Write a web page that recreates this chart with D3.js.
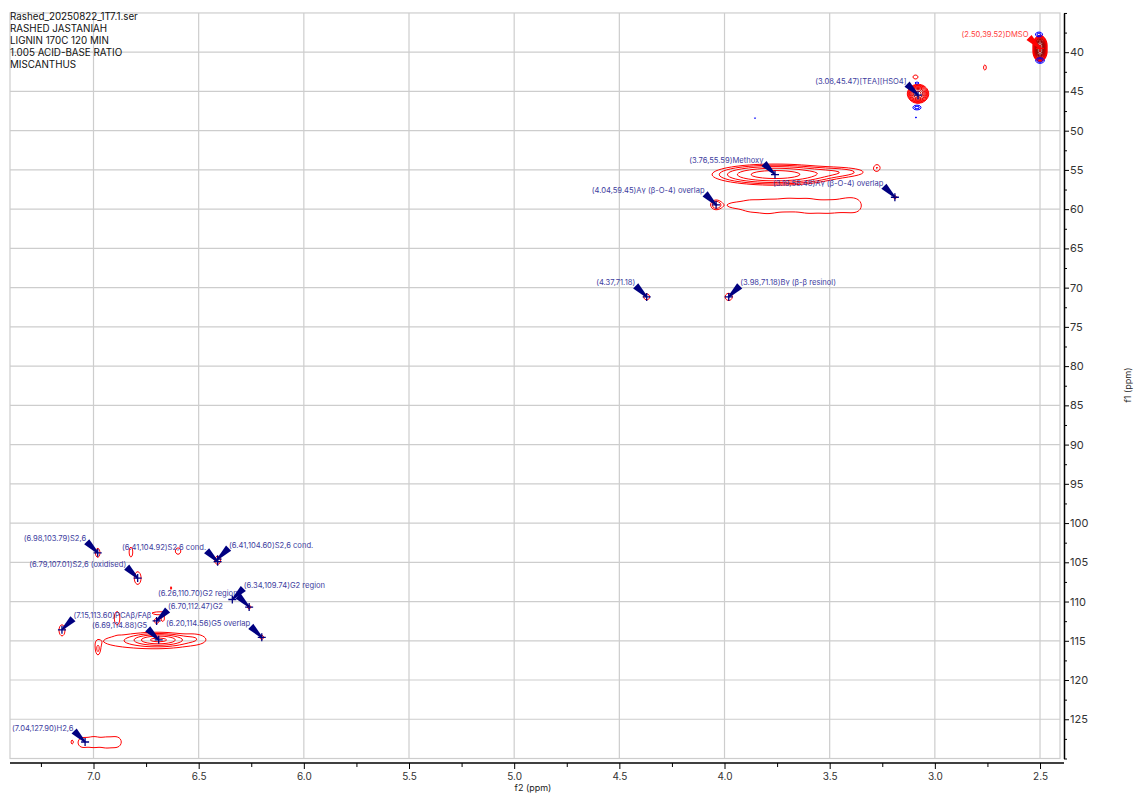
<!DOCTYPE html>
<html>
<head>
<meta charset="utf-8">
<script src="https://cdn.jsdelivr.net/npm/d3@7"></script>
<style>
  body { margin: 0; background: #fff; }
  svg { display: block; }
  text { font-family: Inter, "Liberation Sans", sans-serif; }
</style>
</head>
<body>
<svg id="chart" width="1135" height="796"></svg>
<script>
// ---- spectrum data -------------------------------------------------------
const headerLines = [
  "Rashed_20250822_1T7.1.ser",
  "RASHED JASTANIAH",
  "LIGNIN 170C 120 MIN",
  "1.005 ACID-BASE RATIO",
  "MISCANTHUS"
];

const f2Range = [7.397, 2.405];          // 1H axis (ppm), reversed
const f1Range = [35, 130];               // 13C axis (ppm), downward
const f2Ticks = [7.0, 6.5, 6.0, 5.5, 5.0, 4.5, 4.0, 3.5, 3.0, 2.5];
const f2Minor = [7.25, 6.75, 6.25, 5.75, 5.25, 4.75, 4.25, 3.75, 3.25, 2.75];
const f1Ticks = [40, 45, 50, 55, 60, 65, 70, 75, 80, 85, 90, 95, 100, 105, 110, 115, 120, 125];
const f1Minor = [35, 37.5, 42.5, 47.5, 52.5, 57.5, 62.5, 67.5, 72.5, 77.5, 82.5, 87.5,
                 92.5, 97.5, 102.5, 107.5, 112.5, 117.5, 122.5, 127.5, 130];

// cross peaks: [f2 ppm, f1 ppm, line width f2, line width f1, intensity]
const positivePeaks = [
  [2.500, 39.15, 0.0090, 0.357, 700],    // DMSO
  [2.500, 39.91, 0.0090, 0.357, 700],
  [2.762, 41.95, 0.0071, 0.382, 1.5],
  [3.080, 45.30, 0.0176, 0.420, 60],     // [TEA][HSO4]
  [3.092, 43.16, 0.0133, 0.280, 1.5],
  [3.760, 55.59, 0.1427, 0.637, 9],      // methoxy
  [3.451, 55.27, 0.0951, 0.446, 1.75],
  [3.275, 54.69, 0.0143, 0.382, 1.5],
  [4.040, 59.45, 0.0190, 0.446, 2.5],    // A-gamma
  [3.964, 59.50, 0.0380, 0.380, 1.0],
  [3.888, 59.58, 0.0476, 0.950, 1.15],
  [3.793, 59.70, 0.0476, 1.150, 1.10],
  [3.698, 59.45, 0.0476, 0.950, 1.18],
  [3.603, 59.58, 0.0476, 1.200, 1.10],
  [3.508, 59.70, 0.0476, 0.950, 1.16],
  [3.413, 59.45, 0.0476, 1.150, 1.14],
  [3.365, 59.58, 0.0300, 0.900, 0.6],
  [3.190, 58.48, 0.0095, 0.255, 1.4],
  [4.370, 71.18, 0.0157, 0.420, 1.5],
  [3.980, 71.18, 0.0190, 0.510, 1.5],
  [6.980, 103.79, 0.0119, 0.637, 1.5],   // S2,6
  [6.822, 103.70, 0.0095, 0.700, 1.5],
  [6.598, 103.57, 0.0143, 0.446, 1.5],
  [6.410, 104.75, 0.0157, 0.573, 1.5],
  [6.790, 107.01, 0.0166, 0.830, 1.6],
  [6.631, 108.28, 0.0048, 0.255, 1.3],
  [6.260, 110.70, 0.0095, 0.255, 1.5],   // G2
  [6.200, 114.56, 0.0095, 0.255, 1.5],
  [6.700, 112.47, 0.0119, 0.320, 1.5],
  [6.670, 112.23, 0.0071, 0.320, 1.4],
  [7.150, 113.60, 0.0143, 0.700, 1.5],   // PCA / FA
  [6.979, 116.18, 0.0095, 0.637, 1.4],
  [6.690, 114.88, 0.0618, 0.382, 6],     // G5
  [6.731, 115.04, 0.2140, 0.890, 1.7],
  [6.517, 114.65, 0.0380, 0.510, 0.6],
  [6.888, 112.10, 0.0143, 0.890, 1.5],
  [6.684, 111.48, 0.0713, 0.320, 1.15],
  [7.055, 127.97, 0.0262, 0.760, 1.25],  // H2,6
  [6.998, 127.90, 0.0262, 0.760, 1.30],
  [6.941, 127.97, 0.0262, 0.760, 1.25],
  [6.888, 127.90, 0.0262, 0.760, 1.30],
  [7.102, 127.90, 0.0048, 0.255, 1.3]
];

const negativePeaks = [
  [2.505, 37.74, 0.0143, 0.255, 2.0],
  [2.500, 41.06, 0.0166, 0.280, 2.2],
  [3.085, 43.93, 0.0119, 0.153, 1.4],
  [3.085, 47.05, 0.0166, 0.255, 2.0],
  [3.090, 48.32, 0.0048, 0.127, 1.3],
  [3.855, 48.39, 0.0048, 0.127, 1.3]
];

const annotationShifts = [
  [2.50, 39.52], [3.08, 45.47], [3.76, 55.59], [4.04, 59.45], [3.19, 58.48],
  [4.37, 71.18], [3.98, 71.18], [6.98, 103.79], [6.41, 104.92], [6.41, 104.60],
  [6.79, 107.01], [6.26, 110.70], [6.34, 109.74], [6.70, 112.47], [7.15, 113.60],
  [6.69, 114.88], [6.20, 114.56], [7.04, 127.90]
];
const annotationNames = [
  "DMSO", "[TEA][HSO4]", "Methoxy", "A\u03b3 (\u03b2-O-4) overlap", "A\u03b3 (\u03b2-O-4) overlap",
  "", "B\u03b3 (\u03b2-\u03b2 resinol)", "S2,6", "S2,6 cond.", "S2,6 cond.",
  "S2,6 (oxidised)", "G2 region", "G2 region", "G2", "PCA\u03b2/FA\u03b2",
  "G5", "G5 overlap", "H2,6"
];

// ---- layout ---------------------------------------------------------------
const W = 1135, H = 796;
const plot = { left: 10, right: 1060, top: 12.96, bottom: 758.5 };
const labelSide = ["L","L","L","L","L","L","R","L","L","R","L","L","R","R","R","L","L","L"];
const solventNames = ["DMSO"];

const svg = d3.select("#chart");

const x = d3.scaleLinear().domain(f2Range).range([plot.left, plot.right]);
const y = d3.scaleLinear().domain(f1Range).range([plot.top, plot.bottom]);

// grid
const grid = svg.append("g").attr("stroke", "#cdcdcd").attr("stroke-width", 1.2);
grid.selectAll("line.v").data(f2Ticks).join("line")
  .attr("x1", d => x(d)).attr("x2", d => x(d))
  .attr("y1", plot.top).attr("y2", plot.bottom);
grid.selectAll("line.h").data(f1Ticks).join("line")
  .attr("y1", d => y(d)).attr("y2", d => y(d))
  .attr("x1", plot.left).attr("x2", plot.right);
grid.append("rect")
  .attr("x", plot.left).attr("y", plot.top)
  .attr("width", plot.right - plot.left).attr("height", plot.bottom - plot.top)
  .attr("fill", "none");

// ---- contour field ---------------------------------------------------------
const nx = Math.round(plot.right - plot.left) + 1;
const ny = Math.round(plot.bottom - plot.top) + 1;
const gxPpm = d3.range(nx).map(i => x.invert(plot.left + i));
const gyPpm = d3.range(ny).map(j => y.invert(plot.top + j));

function buildField(peaks) {
  const v = new Float64Array(nx * ny);
  for (const [cx, cy, sx, sy, a] of peaks) {
    const pcx = x(cx) - plot.left, pcy = y(cy) - plot.top;
    const rx = 5 * Math.abs(x(cx + sx) - x(cx)), ry = 5 * Math.abs(y(cy + sy) - y(cy));
    const i0 = Math.max(0, Math.floor(pcx - rx)), i1 = Math.min(nx - 1, Math.ceil(pcx + rx));
    const j0 = Math.max(0, Math.floor(pcy - ry)), j1 = Math.min(ny - 1, Math.ceil(pcy + ry));
    for (let j = j0; j <= j1; j++) {
      const ey = (gyPpm[j] - cy) / sy;
      for (let i = i0; i <= i1; i++) {
        const ex = (gxPpm[i] - cx) / sx;
        v[j * nx + i] += a * Math.exp(-0.5 * (ex * ex + ey * ey));
      }
    }
  }
  return v;
}

const levels = d3.range(17).map(k => Math.pow(1.6, k));
const gridPath = d3.geoPath(d3.geoTransform({
  point(gx, gy) {
    this.stream.point(x(x.invert(plot.left + gx - 0.5)), y(y.invert(plot.top + gy - 0.5)));
  }
}));

function drawContours(peaks, colorFor) {
  const field = buildField(peaks);
  const sets = d3.contours().size([nx, ny]).thresholds(levels)(field);
  svg.append("g")
    .attr("fill", "none")
    .selectAll("path")
    .data(sets.filter(c => c.coordinates.length))
    .join("path")
    .attr("d", gridPath)
    .attr("stroke", c => colorFor(levels.indexOf(c.value)))
    .attr("stroke-width", 1);
}

const deepRed = d3.scaleLinear().domain([4, 12]).range(["#ff0000", "#8e0000"]).clamp(true);
drawContours(positivePeaks, k => k <= 4 ? "#ff0000" : deepRed(k));
drawContours(negativePeaks, () => "#0000ff");

// ---- axes -----------------------------------------------------------------
const axisY = 763, axisX = 1064;
const xAxis = svg.append("g").attr("transform", `translate(0,${axisY})`)
  .call(d3.axisBottom(x).tickValues(f2Ticks).tickFormat(d3.format(".1f")).tickSize(6).tickSizeOuter(0));
xAxis.select(".domain").attr("stroke", "#000").attr("stroke-width", 1.5)
  .attr("d", `M${plot.left},0H${axisX}`);
xAxis.selectAll(".tick text").attr("font-size", 10).attr("fill", "#333").attr("dy", "0.8em");
svg.append("g").attr("transform", `translate(0,${axisY})`)
  .call(d3.axisBottom(x).tickValues(f2Minor).tickFormat("").tickSize(4).tickSizeOuter(0))
  .select(".domain").remove();

const yAxis = svg.append("g").attr("transform", `translate(${axisX},0)`)
  .call(d3.axisRight(y).tickValues(f1Ticks).tickSize(5).tickSizeOuter(0));
yAxis.select(".domain").attr("stroke", "#000").attr("stroke-width", 1.5);
yAxis.selectAll(".tick text").attr("font-size", 11).attr("fill", "#333").attr("x", 6);
svg.append("g").attr("transform", `translate(${axisX},0)`)
  .call(d3.axisRight(y).tickValues(f1Minor).tickFormat("").tickSize(3).tickSizeOuter(0))
  .select(".domain").remove();

svg.append("text").attr("x", 533).attr("y", 791).attr("text-anchor", "middle")
  .attr("font-size", 9).attr("fill", "#222").text("f2 (ppm)");
svg.append("text").attr("transform", "translate(1131,385) rotate(-90)")
  .attr("text-anchor", "middle").attr("font-size", 9).attr("fill", "#222").text("f1 (ppm)");

// ---- header -----------------------------------------------------------------
svg.append("g").selectAll("text").data(headerLines).join("text")
  .attr("x", 10).attr("y", (d, i) => 20 + i * 12)
  .attr("font-size", 9.8).attr("fill", "#111").text(d => d);

// ---- peak annotations -------------------------------------------------------
const annotations = annotationShifts.map((s, i) => ({
  f2: s[0], f1: s[1], name: annotationNames[i], side: labelSide[i],
  solvent: solventNames.includes(annotationNames[i])
}));

const ann = svg.append("g");
annotations.forEach(a => {
  const px = x(a.f2), py = y(a.f1);
  const dir = a.side === "L" ? -1 : 1;
  const tx = px + dir * 11, ty = py - 11;
  // tapered arrow from label to peak
  const dx = px - tx, dy = py - ty, len = Math.hypot(dx, dy);
  const nxv = -dy / len, nyv = dx / len;
  const w1 = 3.6, w2 = 0.8;
  const pts = [
    [tx + nxv * w1, ty + nyv * w1], [tx - nxv * w1, ty - nyv * w1],
    [px - nxv * w2, py - nyv * w2], [px + nxv * w2, py + nyv * w2]
  ];
  const ink = a.solvent ? "#ff0000" : "#000080";
  ann.append("path").attr("d", d3.line()(pts) + "Z").attr("fill", ink);
  // peak cross
  ann.append("path")
    .attr("d", `M${px - 4},${py}H${px + 4}M${px},${py - 4}V${py + 4}`)
    .attr("stroke", ink).attr("stroke-width", 1.3);
  ann.append("text")
    .attr("x", tx + (a.side === "L" ? -0.5 : 0.5)).attr("y", ty - 0.5)
    .attr("text-anchor", a.side === "L" ? "end" : "start")
    .attr("font-size", 7.6)
    .attr("fill", a.solvent ? "#ff3c3c" : "#3d3d9e")
    .text(`(${a.f2.toFixed(2)},${a.f1.toFixed(2)})${a.name}`);
});
</script>
</body>
</html>
